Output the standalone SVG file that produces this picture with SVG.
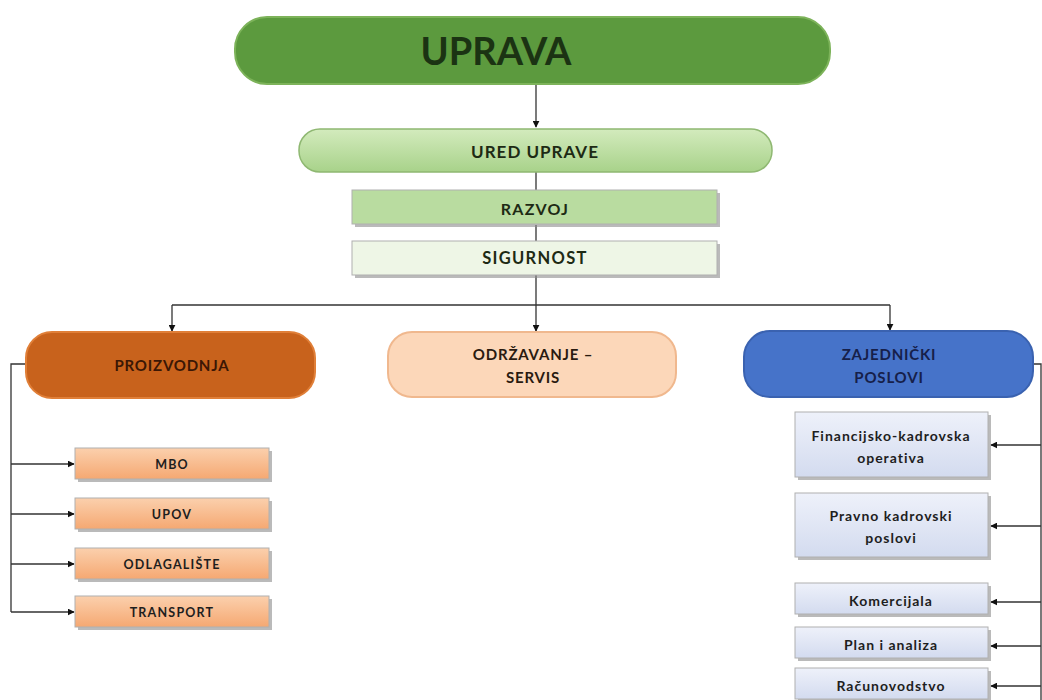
<svg xmlns="http://www.w3.org/2000/svg" width="1042" height="700" viewBox="0 0 1042 700">
<style>
text{font-family:Lato,"Open Sans","Liberation Sans",sans-serif;font-weight:bold;text-anchor:middle;dominant-baseline:central}
.conn{fill:none;stroke:#333;stroke-width:1.3}
.sh{fill:#8c8c8c;opacity:0.6}
.sm{font-size:12.5px;letter-spacing:1.2px;fill:#1e1e1e}
.lc{font-size:14px;letter-spacing:1px;fill:#1e1e1e}
.mid{font-size:15px;letter-spacing:0.8px}
.box{stroke:#b0b0b0;stroke-width:1}
</style>
<defs>
<marker id="arr" viewBox="0 0 10 10" refX="9" refY="5" markerWidth="7" markerHeight="7" orient="auto" markerUnits="userSpaceOnUse">
<path d="M0,0 L10,5 L0,10 z" fill="#111"/>
</marker>
<linearGradient id="gUred" x1="0" y1="0" x2="0" y2="1"><stop offset="0" stop-color="#d3ebbd"/><stop offset="1" stop-color="#a8d28a"/></linearGradient>
<linearGradient id="gOr" x1="0" y1="0" x2="0" y2="1"><stop offset="0" stop-color="#fbd0ad"/><stop offset="1" stop-color="#f5a872"/></linearGradient>
<linearGradient id="gBl" x1="0" y1="0" x2="0" y2="1"><stop offset="0" stop-color="#eef1fa"/><stop offset="1" stop-color="#d3dbef"/></linearGradient>
</defs>

<g id="connectors">
<line class="conn" x1="536" y1="84" x2="536" y2="127" marker-end="url(#arr)"/>
<line class="conn" x1="536" y1="172" x2="536" y2="190"/>
<line class="conn" x1="536" y1="225" x2="536" y2="241"/>
<line class="conn" x1="536" y1="275" x2="536" y2="305"/>
<polyline class="conn" points="172,305 890,305"/>
<line class="conn" x1="172" y1="305" x2="172" y2="331" marker-end="url(#arr)"/>
<line class="conn" x1="536" y1="305" x2="536" y2="331" marker-end="url(#arr)"/>
<line class="conn" x1="890" y1="305" x2="890" y2="330" marker-end="url(#arr)"/>
<polyline class="conn" points="26,364 11,364 11,612"/>
<line class="conn" x1="11" y1="464" x2="74" y2="464" marker-end="url(#arr)"/>
<line class="conn" x1="11" y1="514" x2="74" y2="514" marker-end="url(#arr)"/>
<line class="conn" x1="11" y1="564" x2="74" y2="564" marker-end="url(#arr)"/>
<line class="conn" x1="11" y1="612" x2="74" y2="612" marker-end="url(#arr)"/>
<polyline class="conn" points="1033,364 1041,364 1041,700"/>
<line class="conn" x1="1041" y1="445" x2="991" y2="445" marker-end="url(#arr)"/>
<line class="conn" x1="1041" y1="526" x2="991" y2="526" marker-end="url(#arr)"/>
<line class="conn" x1="1041" y1="602" x2="991" y2="602" marker-end="url(#arr)"/>
<line class="conn" x1="1041" y1="646" x2="991" y2="646" marker-end="url(#arr)"/>
<line class="conn" x1="1041" y1="686" x2="991" y2="686" marker-end="url(#arr)"/>
</g>

<g id="uprava">
<rect x="235" y="17" width="595" height="67" rx="32" fill="#5c9a3e" stroke="#7db35a" stroke-width="2"/>
<text x="496" y="50" font-size="38" fill="#1b3313">UPRAVA</text>
</g>

<g id="ured-uprave">
<rect x="299" y="129" width="473" height="43" rx="21" fill="url(#gUred)" stroke="#8fb872" stroke-width="1.5"/>
<text x="535" y="151" font-size="17" letter-spacing="1" fill="#1d2a14">URED UPRAVE</text>
</g>

<g id="razvoj">
<rect x="355" y="193" width="365" height="34" class="sh"/>
<rect x="352" y="190" width="365" height="34" fill="#b9dca0" class="box"/>
<text x="535" y="208" font-size="16" letter-spacing="1.2" fill="#1d2a14">RAZVOJ</text>
</g>

<g id="sigurnost">
<rect x="355" y="244" width="365" height="34" class="sh"/>
<rect x="352" y="241" width="365" height="34" fill="#eef6e6" class="box"/>
<text x="535" y="258" font-size="16.5" letter-spacing="1.3" fill="#1d2a14">SIGURNOST</text>
</g>

<g id="proizvodnja">
<rect x="26" y="332" width="289" height="66" rx="26" fill="#c8621c" stroke="#e07f38" stroke-width="2"/>
<text x="172" y="365" class="mid" fill="#3b1705">PROIZVODNJA</text>
</g>

<g id="odrzavanje">
<rect x="388" y="332" width="288" height="65" rx="24" fill="#fcd7b9" stroke="#f0b88e" stroke-width="2"/>
<text x="533" y="354" class="mid" fill="#2a1a10">ODRŽAVANJE –</text>
<text x="533" y="377" class="mid" fill="#2a1a10">SERVIS</text>
</g>

<g id="zajednicki">
<rect x="744" y="331" width="289" height="66" rx="26" fill="#4673c9" stroke="#3a62b0" stroke-width="2"/>
<text x="889" y="354" class="mid" fill="#16204a">ZAJEDNIČKI</text>
<text x="889" y="377" class="mid" fill="#16204a">POSLOVI</text>
</g>

<g id="mbo">
<rect x="78" y="451" width="194" height="31" class="sh"/>
<rect x="75" y="448" width="194" height="31" fill="url(#gOr)" class="box"/>
<text x="172" y="464" class="sm">MBO</text>
</g>
<g id="upov">
<rect x="78" y="501" width="194" height="31" class="sh"/>
<rect x="75" y="498" width="194" height="31" fill="url(#gOr)" class="box"/>
<text x="172" y="514" class="sm">UPOV</text>
</g>
<g id="odlagaliste">
<rect x="78" y="551" width="194" height="31" class="sh"/>
<rect x="75" y="548" width="194" height="31" fill="url(#gOr)" class="box"/>
<text x="172" y="564" class="sm">ODLAGALIŠTE</text>
</g>
<g id="transport">
<rect x="78" y="599" width="194" height="31" class="sh"/>
<rect x="75" y="596" width="194" height="31" fill="url(#gOr)" class="box"/>
<text x="172" y="612" class="sm">TRANSPORT</text>
</g>

<g id="financijsko">
<rect x="798" y="415" width="193" height="65" class="sh"/>
<rect x="795" y="412" width="193" height="65" fill="url(#gBl)" class="box"/>
<text x="891" y="435" class="lc">Financijsko-kadrovska</text>
<text x="891" y="457" class="lc">operativa</text>
</g>
<g id="pravno">
<rect x="798" y="496" width="193" height="64" class="sh"/>
<rect x="795" y="493" width="193" height="64" fill="url(#gBl)" class="box"/>
<text x="891" y="515" class="lc">Pravno kadrovski</text>
<text x="891" y="537" class="lc">poslovi</text>
</g>
<g id="komercijala">
<rect x="798" y="586" width="193" height="31" class="sh"/>
<rect x="795" y="583" width="193" height="31" fill="url(#gBl)" class="box"/>
<text x="891" y="600" class="lc">Komercijala</text>
</g>
<g id="plan">
<rect x="798" y="630" width="193" height="31" class="sh"/>
<rect x="795" y="627" width="193" height="31" fill="url(#gBl)" class="box"/>
<text x="891" y="644" class="lc">Plan i analiza</text>
</g>
<g id="racunovodstvo">
<rect x="798" y="671" width="193" height="31" class="sh"/>
<rect x="795" y="668" width="193" height="31" fill="url(#gBl)" class="box"/>
<text x="891" y="685" class="lc">Računovodstvo</text>
</g>
</svg>
